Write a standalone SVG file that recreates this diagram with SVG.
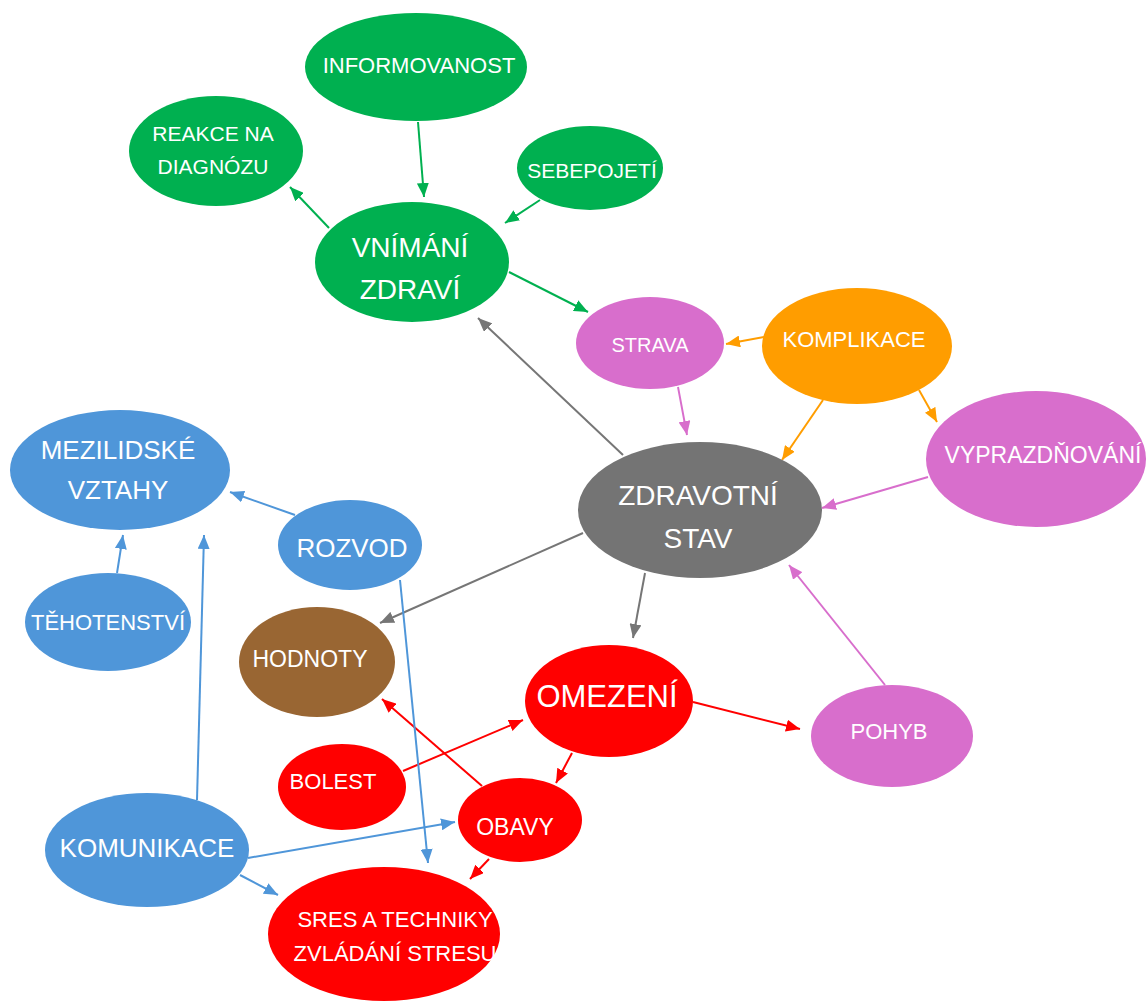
<svg xmlns="http://www.w3.org/2000/svg" width="1146" height="1001" viewBox="0 0 1146 1001">
<style>
text{font-family:"Liberation Sans",Arial,sans-serif;fill:#fff;text-anchor:middle}
.c{fill:none;stroke-width:2}
.g{fill:#00B050}.gs{stroke:#00B050}
.k{fill:#747474}.ks{stroke:#767676}
.p{fill:#D86ECC}.ps{stroke:#D86ECC}
.o{fill:#FF9D00}.os{stroke:#FF9D00}
.b{fill:#4F96D9}.bs{stroke:#4F96D9}
.r{fill:#FF0000}.rs{stroke:#FF0000}
.br{fill:#996633}
</style>
<defs>
<marker id="aG" viewBox="0 0 14 12" refX="14" refY="6" markerWidth="14" markerHeight="12" markerUnits="userSpaceOnUse" orient="auto"><path d="M0,0L14,6L0,12z" fill="#00B050"/></marker>
<marker id="aK" viewBox="0 0 14 12" refX="14" refY="6" markerWidth="14" markerHeight="12" markerUnits="userSpaceOnUse" orient="auto"><path d="M0,0L14,6L0,12z" fill="#767676"/></marker>
<marker id="aP" viewBox="0 0 14 12" refX="14" refY="6" markerWidth="14" markerHeight="12" markerUnits="userSpaceOnUse" orient="auto"><path d="M0,0L14,6L0,12z" fill="#D86ECC"/></marker>
<marker id="aO" viewBox="0 0 14 12" refX="14" refY="6" markerWidth="14" markerHeight="12" markerUnits="userSpaceOnUse" orient="auto"><path d="M0,0L14,6L0,12z" fill="#FF9D00"/></marker>
<marker id="aB" viewBox="0 0 14 12" refX="14" refY="6" markerWidth="14" markerHeight="12" markerUnits="userSpaceOnUse" orient="auto"><path d="M0,0L14,6L0,12z" fill="#4F96D9"/></marker>
<marker id="aR" viewBox="0 0 14 12" refX="14" refY="6" markerWidth="14" markerHeight="12" markerUnits="userSpaceOnUse" orient="auto"><path d="M0,0L14,6L0,12z" fill="#FF0000"/></marker>
</defs>

<g id="connectors">
<path class="c gs" d="M418,122L424,197" marker-end="url(#aG)"/>
<path class="c gs" d="M329,228L290,187" marker-end="url(#aG)"/>
<path class="c gs" d="M540,200L505,223" marker-end="url(#aG)"/>
<path class="c gs" d="M509,272L588,312" marker-end="url(#aG)"/>
<path class="c ks" d="M623,455L478,318" marker-end="url(#aK)"/>
<path class="c ks" d="M583,533L380,623" marker-end="url(#aK)"/>
<path class="c ks" d="M645,573L633,638" marker-end="url(#aK)"/>
<path class="c os" d="M764,337L726,344" marker-end="url(#aO)"/>
<path class="c os" d="M823,400L782,460" marker-end="url(#aO)"/>
<path class="c os" d="M919,390L937,422" marker-end="url(#aO)"/>
<path class="c ps" d="M678,387L687,435" marker-end="url(#aP)"/>
<path class="c ps" d="M928,477L822,508" marker-end="url(#aP)"/>
<path class="c ps" d="M885,685L789,565" marker-end="url(#aP)"/>
<path class="c rs" d="M693,702L800,729" marker-end="url(#aR)"/>
<path class="c rs" d="M403,771L523,720" marker-end="url(#aR)"/>
<path class="c rs" d="M572,753L556,783" marker-end="url(#aR)"/>
<path class="c rs" d="M482,786L382,699" marker-end="url(#aR)"/>
<path class="c rs" d="M489,859L470,879" marker-end="url(#aR)"/>
<path class="c bs" d="M295,515L230,492" marker-end="url(#aB)"/>
<path class="c bs" d="M117,573L123,535" marker-end="url(#aB)"/>
<path class="c bs" d="M197,800L204,535" marker-end="url(#aB)"/>
<path class="c bs" d="M400,580L428,863" marker-end="url(#aB)"/>
<path class="c bs" d="M248,858L455,822" marker-end="url(#aB)"/>
<path class="c bs" d="M240,875L278,895" marker-end="url(#aB)"/>
</g>

<g id="informovanost"><ellipse class="g" cx="416" cy="67" rx="111" ry="54"/><text x="419" y="73" font-size="22">INFORMOVANOST</text></g>
<g id="reakce"><ellipse class="g" cx="216" cy="151" rx="87" ry="55"/><text x="213" y="141" font-size="21">REAKCE NA</text><text x="213" y="174" font-size="21">DIAGNÓZU</text></g>
<g id="sebepojeti"><ellipse class="g" cx="590" cy="168" rx="73" ry="42"/><text x="592" y="178" font-size="21">SEBEPOJETÍ</text></g>
<g id="vnimani"><ellipse class="g" cx="412" cy="262" rx="97" ry="60"/><text x="410" y="257" font-size="28">VNÍMÁNÍ</text><text x="410" y="299" font-size="28">ZDRAVÍ</text></g>
<g id="strava"><ellipse class="p" cx="650" cy="343" rx="74" ry="46"/><text x="650" y="352" font-size="20">STRAVA</text></g>
<g id="komplikace"><ellipse class="o" cx="857" cy="346" rx="95" ry="58"/><text x="854" y="347" font-size="22">KOMPLIKACE</text></g>
<g id="vyprazdnovani"><ellipse class="p" cx="1036" cy="459" rx="110" ry="68"/><text x="1043" y="463" font-size="23">VYPRAZDŇOVÁNÍ</text></g>
<g id="zdravotni"><ellipse class="k" cx="700" cy="510" rx="122" ry="68"/><text x="698" y="505" font-size="28">ZDRAVOTNÍ</text><text x="698" y="548" font-size="28">STAV</text></g>
<g id="mezilidske"><ellipse class="b" cx="120" cy="470" rx="110" ry="60"/><text x="118" y="459" font-size="26">MEZILIDSKÉ</text><text x="118" y="499" font-size="26">VZTAHY</text></g>
<g id="rozvod"><ellipse class="b" cx="350" cy="545" rx="72" ry="45"/><text x="352" y="557" font-size="26">ROZVOD</text></g>
<g id="tehotenstvi"><ellipse class="b" cx="108" cy="622" rx="83" ry="49"/><text x="108" y="630" font-size="22">TĚHOTENSTVÍ</text></g>
<g id="hodnoty"><ellipse class="br" cx="317" cy="662" rx="78" ry="55"/><text x="310" y="667" font-size="23">HODNOTY</text></g>
<g id="omezeni"><ellipse class="r" cx="609" cy="701" rx="84" ry="56"/><text x="607" y="707" font-size="31">OMEZENÍ</text></g>
<g id="pohyb"><ellipse class="p" cx="892" cy="736" rx="81" ry="51"/><text x="889" y="739" font-size="22">POHYB</text></g>
<g id="bolest"><ellipse class="r" cx="342" cy="787" rx="64" ry="43"/><text x="333" y="789" font-size="22">BOLEST</text></g>
<g id="obavy"><ellipse class="r" cx="520" cy="820" rx="62" ry="42"/><text x="515" y="835" font-size="23">OBAVY</text></g>
<g id="komunikace"><ellipse class="b" cx="147" cy="850" rx="102" ry="57"/><text x="147" y="857" font-size="26">KOMUNIKACE</text></g>
<g id="sres"><ellipse class="r" cx="384" cy="934" rx="116" ry="67"/><text x="395" y="927" font-size="22">SRES A TECHNIKY</text><text x="395" y="961" font-size="22">ZVLÁDÁNÍ STRESU</text></g>
</svg>
